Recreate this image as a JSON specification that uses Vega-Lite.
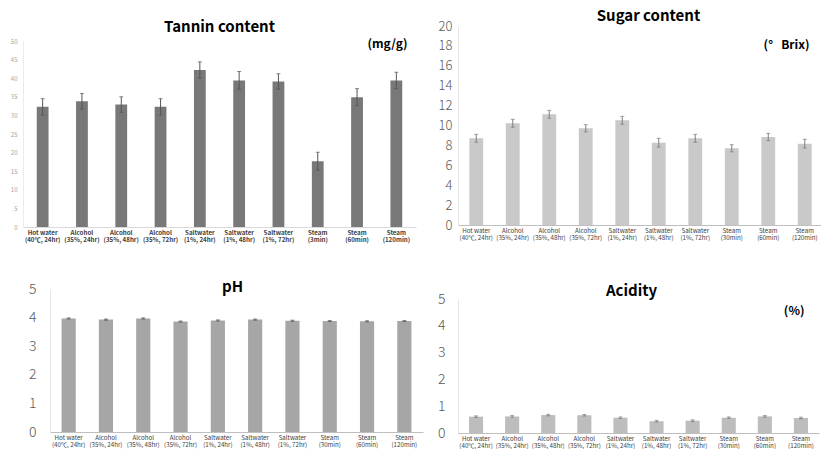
{
  "$schema": "https://vega.github.io/schema/vega-lite/v6.json",
  "padding": {"left": 10, "top": 9, "right": 0, "bottom": 0},
  "background": "white",
  "datasets": {
    "tannin": [
      {"treatment": "Hot water (40℃, 24hr)", "value": 32.3, "sd": 2.2},
      {"treatment": "Alcohol (35%, 24hr)", "value": 33.8, "sd": 2.1},
      {"treatment": "Alcohol (35%, 48hr)", "value": 32.9, "sd": 2.1},
      {"treatment": "Alcohol (35%, 72hr)", "value": 32.3, "sd": 2.2},
      {"treatment": "Saltwater (1%, 24hr)", "value": 42.2, "sd": 2.2},
      {"treatment": "Saltwater (1%, 48hr)", "value": 39.4, "sd": 2.4},
      {"treatment": "Saltwater (1%, 72hr)", "value": 39.1, "sd": 2.1},
      {"treatment": "Steam (3min)", "value": 17.7, "sd": 2.4},
      {"treatment": "Steam (60min)", "value": 34.9, "sd": 2.3},
      {"treatment": "Steam (120min)", "value": 39.4, "sd": 2.2}
    ],
    "sugar": [
      {"treatment": "Hot water (40℃, 24hr)", "value": 8.71, "sd": 0.4},
      {"treatment": "Alcohol (35%, 24hr)", "value": 10.22, "sd": 0.4},
      {"treatment": "Alcohol (35%, 48hr)", "value": 11.12, "sd": 0.4},
      {"treatment": "Alcohol (35%, 72hr)", "value": 9.72, "sd": 0.36},
      {"treatment": "Saltwater (1%, 24hr)", "value": 10.52, "sd": 0.4},
      {"treatment": "Saltwater (1%, 48hr)", "value": 8.27, "sd": 0.44},
      {"treatment": "Saltwater (1%, 72hr)", "value": 8.71, "sd": 0.4},
      {"treatment": "Steam (30min)", "value": 7.71, "sd": 0.36},
      {"treatment": "Steam (60min)", "value": 8.84, "sd": 0.37},
      {"treatment": "Steam (120min)", "value": 8.17, "sd": 0.44}
    ],
    "ph": [
      {"treatment": "Hot water (40℃, 24hr)", "value": 3.97, "sd": 0.02},
      {"treatment": "Alcohol (35%, 24hr)", "value": 3.93, "sd": 0.02},
      {"treatment": "Alcohol (35%, 48hr)", "value": 3.97, "sd": 0.02},
      {"treatment": "Alcohol (35%, 72hr)", "value": 3.86, "sd": 0.02},
      {"treatment": "Saltwater (1%, 24hr)", "value": 3.9, "sd": 0.02},
      {"treatment": "Saltwater (1%, 48hr)", "value": 3.93, "sd": 0.02},
      {"treatment": "Saltwater (1%, 72hr)", "value": 3.89, "sd": 0.02},
      {"treatment": "Steam (30min)", "value": 3.88, "sd": 0.02},
      {"treatment": "Steam (60min)", "value": 3.87, "sd": 0.02},
      {"treatment": "Steam (120min)", "value": 3.88, "sd": 0.02}
    ],
    "acidity": [
      {"treatment": "Hot water (40℃, 24hr)", "value": 0.61, "sd": 0.03},
      {"treatment": "Alcohol (35%, 24hr)", "value": 0.62, "sd": 0.03},
      {"treatment": "Alcohol (35%, 48hr)", "value": 0.67, "sd": 0.03},
      {"treatment": "Alcohol (35%, 72hr)", "value": 0.66, "sd": 0.03},
      {"treatment": "Saltwater (1%, 24hr)", "value": 0.57, "sd": 0.03},
      {"treatment": "Saltwater (1%, 48hr)", "value": 0.44, "sd": 0.03},
      {"treatment": "Saltwater (1%, 72hr)", "value": 0.46, "sd": 0.03},
      {"treatment": "Steam (30min)", "value": 0.57, "sd": 0.03},
      {"treatment": "Steam (60min)", "value": 0.62, "sd": 0.03},
      {"treatment": "Steam (120min)", "value": 0.56, "sd": 0.03}
    ]
  },
  "hconcat": [
    {
      "spacing": 37,
      "vconcat": [
        {
          "spacing": -7,
          "vconcat": [
            {"width": 1, "height": 1, "data": {"values": []}, "mark": "point"},
            {
              "width": 393,
              "height": 186,
              "data": {"name": "tannin"},
              "title": {"text": "Tannin content", "fontSize": 15, "fontWeight": "bold", "color": "#000000", "offset": 2},
              "encoding": {
                "x": {
                  "field": "treatment", "type": "nominal", "sort": null,
                  "scale": {"paddingInner": 0.7, "paddingOuter": 0.35},
                  "axis": {
                    "title": null, "labelAngle": 0, "labelFontSize": 6.2, "labelFontWeight": "bold",
                    "labelColor": "#404040", "labelPadding": 2, "labelLineHeight": 7.5, "labelBaseline": "top",
                    "labelOverlap": false, "labelBound": false, "domainColor": "#d9d9d9",
                    "labelExpr": "[slice(datum.label, 0, indexof(datum.label, ' (')), slice(datum.label, indexof(datum.label, ' (') + 1)]"
                  }
                },
                "y": {
                  "field": "value", "type": "quantitative",
                  "scale": {"domain": [0, 50], "nice": false},
                  "axis": {
                    "values": [0, 5, 10, 15, 20, 25, 30, 35, 40, 45, 50],
                    "labelFontSize": 6, "labelColor": "#a6a6a6", "labelPadding": 6, "domainColor": "#ebebeb",
                    "title": "(mg/g)", "titleAngle": 0, "titleAlign": "right", "titleBaseline": "middle",
                    "titleX": 384, "titleY": 2, "titleFontSize": 12, "titleFontWeight": "bold", "titleColor": "#000000"
                  }
                }
              },
              "layer": [
                {"mark": {"type": "bar", "color": "#787878"}},
                {
                  "mark": {"type": "errorbar", "color": "#555555", "thickness": 1, "ticks": {"size": 4}},
                  "encoding": {"yError": {"field": "sd"}}
                }
              ]
            }
          ]
        },
        {
          "spacing": 4,
          "hconcat": [
            {"width": 1, "height": 1, "data": {"values": []}, "mark": "point"},
            {
              "width": 373,
              "height": 143,
              "data": {"name": "ph"},
              "title": {"text": "pH", "fontSize": 15, "fontWeight": "bold", "color": "#000000", "offset": -13, "dx": -4},
              "encoding": {
                "x": {
                  "field": "treatment", "type": "nominal", "sort": null,
                  "scale": {"paddingInner": 0.62, "paddingOuter": 0.31},
                  "axis": {
                    "title": null, "labelAngle": 0, "labelFontSize": 6.2,
                    "labelColor": "#404040", "labelPadding": 2, "labelLineHeight": 7.5, "labelBaseline": "top",
                    "labelOverlap": false, "labelBound": false, "domainColor": "#bfbfbf",
                    "labelExpr": "[slice(datum.label, 0, indexof(datum.label, ' (')), slice(datum.label, indexof(datum.label, ' (') + 1)]"
                  }
                },
                "y": {
                  "field": "value", "type": "quantitative",
                  "scale": {"domain": [0, 5], "nice": false},
                  "axis": {
                    "values": [0, 1, 2, 3, 4, 5], "labelFontSize": 14, "labelFontWeight": 300, "labelColor": "#595959",
                    "labelPadding": 14, "domainColor": "#e6e6e6", "title": null
                  }
                }
              },
              "layer": [
                {"mark": {"type": "bar", "color": "#a6a6a6"}},
                {
                  "mark": {"type": "errorbar", "color": "#595959", "thickness": 1, "ticks": {"size": 4}},
                  "encoding": {"yError": {"field": "sd"}}
                }
              ]
            }
          ]
        }
      ]
    },
    {
      "spacing": 43,
      "vconcat": [
        {
          "width": 365,
          "height": 199,
          "data": {"name": "sugar"},
          "title": {"text": "Sugar content", "fontSize": 15, "fontWeight": "bold", "color": "#000000", "offset": -4, "dx": 8},
          "encoding": {
            "x": {
              "field": "treatment", "type": "nominal", "sort": null,
              "scale": {"paddingInner": 0.62, "paddingOuter": 0.31},
              "axis": {
                "title": null, "labelAngle": 0, "labelFontSize": 6.2,
                "labelColor": "#404040", "labelPadding": 2, "labelLineHeight": 7.5, "labelBaseline": "top",
                "labelOverlap": false, "labelBound": false, "domainColor": "#bfbfbf",
                "labelExpr": "[slice(datum.label, 0, indexof(datum.label, ' (')), slice(datum.label, indexof(datum.label, ' (') + 1)]"
              }
            },
            "y": {
              "field": "value", "type": "quantitative",
              "scale": {"domain": [0, 20], "nice": false},
              "axis": {
                "values": [0, 2, 4, 6, 8, 10, 12, 14, 16, 18, 20], "labelFontSize": 13, "labelFontWeight": 300, "labelColor": "#595959",
                "labelPadding": 6, "domainColor": "#e6e6e6",
                "title": "(°\u00a0\u00a0\u00a0Brix)", "titleAngle": 0, "titleAlign": "right", "titleBaseline": "middle",
                "titleX": 351, "titleY": 18, "titleFontSize": 12, "titleFontWeight": "bold", "titleColor": "#000000"
              }
            }
          },
          "layer": [
            {"mark": {"type": "bar", "color": "#c9c9c9"}},
            {
              "mark": {"type": "errorbar", "color": "#7f7f7f", "thickness": 1, "ticks": {"size": 4}},
              "encoding": {"yError": {"field": "sd"}}
            }
          ]
        },
        {
          "width": 361,
          "height": 134,
          "data": {"name": "acidity"},
          "title": {"text": "Acidity", "fontSize": 15, "fontWeight": "bold", "color": "#000000", "offset": -7, "dx": -7},
          "encoding": {
            "x": {
              "field": "treatment", "type": "nominal", "sort": null,
              "scale": {"paddingInner": 0.61, "paddingOuter": 0.305},
              "axis": {
                "title": null, "labelAngle": 0, "labelFontSize": 6.2,
                "labelColor": "#404040", "labelPadding": 2, "labelLineHeight": 7.5, "labelBaseline": "top",
                "labelOverlap": false, "labelBound": false, "domainColor": "#bfbfbf",
                "labelExpr": "[slice(datum.label, 0, indexof(datum.label, ' (')), slice(datum.label, indexof(datum.label, ' (') + 1)]"
              }
            },
            "y": {
              "field": "value", "type": "quantitative",
              "scale": {"domain": [0, 5], "nice": false},
              "axis": {
                "values": [0, 1, 2, 3, 4, 5], "labelFontSize": 14, "labelFontWeight": 300, "labelColor": "#595959",
                "labelPadding": 13, "domainColor": "#e6e6e6",
                "title": "(%)", "titleAngle": 0, "titleAlign": "right", "titleBaseline": "middle",
                "titleX": 346, "titleY": 11, "titleFontSize": 12, "titleFontWeight": "bold", "titleColor": "#000000"
              }
            }
          },
          "layer": [
            {"mark": {"type": "bar", "color": "#bdbdbd"}},
            {
              "mark": {"type": "errorbar", "color": "#7f7f7f", "thickness": 1, "ticks": {"size": 4}},
              "encoding": {"yError": {"field": "sd"}}
            }
          ]
        }
      ]
    }
  ],
  "spacing": 14,
  "config": {
    "font": "Noto Sans CJK KR",
    "view": {"stroke": null},
    "axis": {"ticks": false, "grid": false},
    "title": {"anchor": "middle"}
  }
}
